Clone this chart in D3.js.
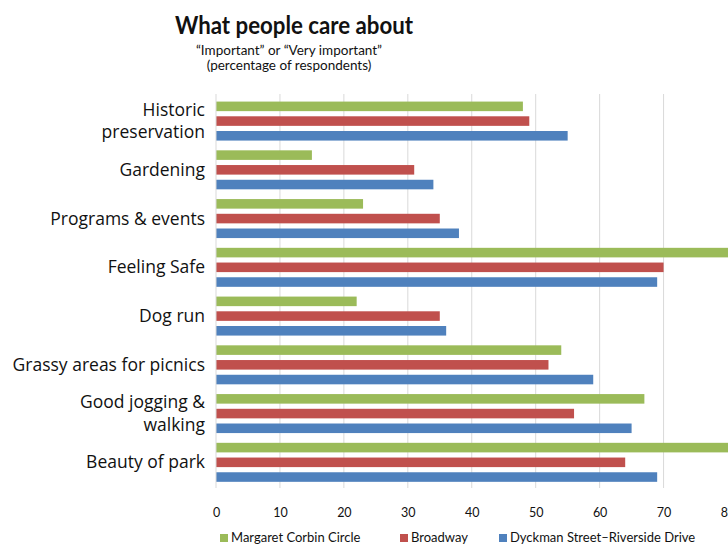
<!DOCTYPE html>
<html>
<head>
<meta charset="utf-8">
<script src="https://cdn.jsdelivr.net/npm/d3@7"></script>
<style>
  html, body { margin: 0; padding: 0; background: #fff; }
  svg { display: block; }
  text { font-family: Lato, "Open Sans", sans-serif; fill: #111; }
</style>
</head>
<body>
<svg id="chart" width="728" height="544"></svg>
<script>
const categories = [
  ["Historic", "preservation"],
  ["Gardening"],
  ["Programs & events"],
  ["Feeling Safe"],
  ["Dog run"],
  ["Grassy areas for picnics"],
  ["Good jogging &", "walking"],
  ["Beauty of park"]
];
const seriesNames = ["Margaret Corbin Circle", "Broadway", "Dyckman Street\u2013Riverside Drive"];
const margaretCorbin = [48, 15, 23, 85, 22, 54, 67, 85];
const broadway       = [49, 31, 35, 70, 35, 52, 56, 64];
const dyckman        = [55, 34, 38, 69, 36, 59, 65, 69];
const xTicks = [0, 10, 20, 30, 40, 50, 60, 70, 80];
const colors = ["#9BBB59", "#C0504D", "#4F81BD"];

const series = [margaretCorbin, broadway, dyckman];
const svg = d3.select("#chart");

const plotLeft = 216, plotRight = 727.5, plotTop = 96.7, plotBottom = 486.7;

const x = d3.scaleLinear().domain([0, 80]).range([plotLeft, plotRight]);
const y = d3.scaleBand().domain(d3.range(categories.length))
  .range([plotTop, plotBottom]).paddingInner(0.2).paddingOuter(0.1);
const ys = d3.scaleBand().domain(d3.range(series.length))
  .range([0, y.bandwidth()]).paddingInner(0.35);

// Title
svg.append("text").attr("x", 294).attr("y", 34).attr("text-anchor", "middle")
  .style("font-size", "24px").style("font-weight", "bold")
  .attr("textLength", 238).attr("lengthAdjust", "spacingAndGlyphs")
  .text("What people care about");
svg.append("text").attr("x", 289).attr("y", 55).attr("text-anchor", "middle")
  .style("font-size", "13.5px").text("\u201CImportant\u201D or \u201CVery important\u201D");
svg.append("text").attr("x", 289).attr("y", 69.5).attr("text-anchor", "middle")
  .style("font-size", "13.5px").text("(percentage of respondents)");

// Gridlines
svg.append("g").selectAll("line").data(xTicks.filter(d => d > 0 && d < 80)).join("line")
  .attr("x1", d => x(d)).attr("x2", d => x(d))
  .attr("y1", 94).attr("y2", 488)
  .attr("stroke", "#d9d9d9").attr("stroke-width", 1);

// Bars
svg.append("defs").append("clipPath").attr("id", "clip")
  .append("rect").attr("x", 0).attr("y", 0).attr("width", 728).attr("height", 544);
const groups = svg.append("g").attr("clip-path", "url(#clip)")
  .selectAll("g").data(categories).join("g")
  .attr("transform", (d, i) => `translate(0,${y(i)})`);
groups.selectAll("rect").data((d, i) => series.map((s, k) => ({k, v: s[i]}))).join("rect")
  .attr("x", x(0))
  .attr("y", d => ys(d.k))
  .attr("width", d => x(d.v) - x(0))
  .attr("height", ys.bandwidth())
  .attr("fill", d => colors[d.k]);

// Axis line at 0
svg.append("line").attr("x1", x(0)).attr("x2", x(0)).attr("y1", 94).attr("y2", 488)
  .attr("stroke", "#d9d9d9");

// Category labels
const labels = svg.append("g").selectAll("text").data(categories).join("text")
  .attr("text-anchor", "end")
  .style("font-family", "'Open Sans', sans-serif")
  .style("font-size", "17.5px")
  .attr("transform", (d, i) => `translate(205,${y(i) + y.bandwidth() / 2})`);
labels.selectAll("tspan").data(d => d).join("tspan")
  .attr("x", 0)
  .attr("y", (t, j, nodes) => (j - (nodes.length - 1) / 2) * 22.5)
  .attr("dy", "0.35em")
  .text(t => t);

// X axis tick labels
const xAxis = d3.axisBottom(x).tickValues(xTicks).tickSize(0).tickPadding(0);
const gx = svg.append("g").attr("transform", "translate(0,508)").call(xAxis);
gx.select(".domain").remove();
gx.selectAll("text").attr("dy", null).attr("y", 9)
  .style("font-size", "12.5px").style("font-family", "Lato, sans-serif").attr("fill", "#111");

// Legend
const swatchX = [220, 400, 499];
const leg = svg.append("g").selectAll("g").data(seriesNames).join("g")
  .attr("transform", (d, i) => `translate(${swatchX[i]},0)`);
leg.append("rect").attr("x", 0).attr("y", 534).attr("width", 8).attr("height", 8)
  .attr("fill", (d, i) => colors[i]);
leg.append("text").attr("x", 11).attr("y", 541.5)
  .style("font-size", "13px").text(d => d);
</script>
</body>
</html>
